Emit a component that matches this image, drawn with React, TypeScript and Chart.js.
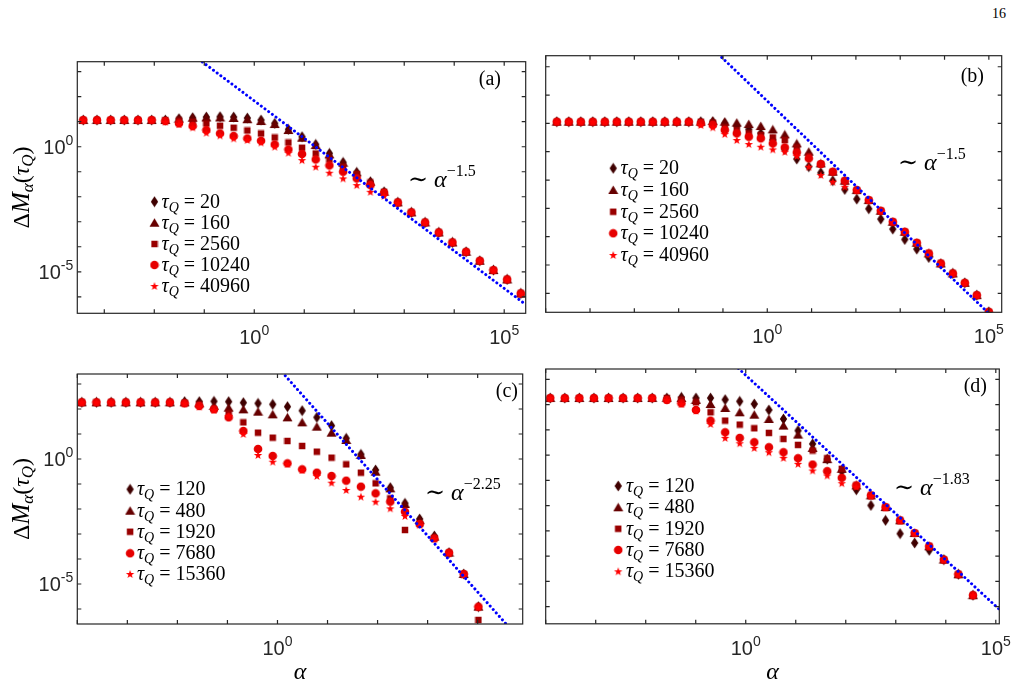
import React, { useEffect, useRef } from "react";
import { Chart, registerables } from "chart.js";

Chart.register(...registerables);

// ---------------------------------------------------------------------------
// Data. All values are log10 of the plotted quantity (both axes are log10).
// ---------------------------------------------------------------------------

const tauTopRow = ["20", "160", "2560", "10240", "40960"];
const tauBottomRow = ["120", "480", "1920", "7680", "15360"];

// power-law guide lines: exponent and log10 prefactor
const slopeA = -1.5;
const slopeB = -1.5;
const slopeC = -2.25;
const slopeD = -1.83;
const logPrefactorA = 1.835;
const logPrefactorB = 1.79;
const logPrefactorC = 3.68;
const logPrefactorD = 3.17;

// decade exponents that carry a tick label
const xTickLabelExponents = [0, 5];
const yTickLabelExponents = [0, -5];

// ---- panel (a) ----
const logAlphaA = [-3.42, -3.147, -2.873, -2.6, -2.326, -2.053, -1.779, -1.506, -1.232, -0.959, -0.685, -0.412, -0.138, 0.136, 0.409, 0.683, 0.956, 1.23, 1.503, 1.777, 2.05, 2.324, 2.597, 2.871, 3.144, 3.418, 3.691, 3.965, 4.238, 4.512, 4.785, 5.059, 5.332];
const logMA_20 = [1.067, 1.067, 1.067, 1.067, 1.067, 1.067, 1.067, 1.12, 1.16, 1.187, 1.2, 1.187, 1.147, 1.067, 0.933, 0.693, 0.4, 0.093, -0.267, -0.627, -1.027, -1.4, -1.8, -2.227, -2.627, -3.027, -3.427, -3.827, -4.2, -4.56, -4.933, -5.307, -5.867];
const logMA_160 = [1.067, 1.067, 1.067, 1.067, 1.067, 1.067, 1.067, 1.12, 1.16, 1.17, 1.17, 1.15, 1.1, 1.027, 0.907, 0.667, 0.36, 0.067, -0.307, -0.64, -1.027, -1.4, -1.8, -2.227, -2.627, -3.027, -3.427, -3.827, -4.2, -4.56, -4.933, -5.307, -5.867];
const logMA_2560 = [1.067, 1.067, 1.067, 1.067, 1.067, 1.067, 1.067, 1.05, 1.0, 0.93, 0.84, 0.76, 0.65, 0.53, 0.37, 0.17, -0.04, -0.27, -0.51, -0.8, -1.09, -1.43, -1.8, -2.227, -2.627, -3.027, -3.427, -3.827, -4.2, -4.56, -4.933, -5.307, -5.867];
const logMA_10240 = [1.067, 1.067, 1.067, 1.067, 1.067, 1.067, 1.027, 0.933, 0.827, 0.667, 0.533, 0.427, 0.333, 0.24, 0.093, -0.107, -0.293, -0.507, -0.747, -1.0, -1.267, -1.533, -1.84, -2.227, -2.627, -3.027, -3.427, -3.827, -4.2, -4.56, -4.933, -5.307, -5.867];
const logMA_40960 = [1.067, 1.067, 1.067, 1.067, 1.067, 1.067, 1.0, 0.907, 0.773, 0.56, 0.453, 0.333, 0.267, 0.173, 0.0, -0.24, -0.533, -0.8, -1.04, -1.267, -1.533, -1.8, -1.96, -2.25, -2.627, -3.027, -3.427, -3.827, -4.2, -4.56, -4.933, -5.307, -5.867];

// ---- panel (b) ----
const logAlphaB = [-4.75, -4.479, -4.208, -3.938, -3.667, -3.396, -3.125, -2.854, -2.584, -2.313, -2.042, -1.771, -1.5, -1.23, -0.959, -0.688, -0.417, -0.146, 0.124, 0.395, 0.666, 0.937, 1.208, 1.478, 1.749, 2.02, 2.291, 2.562, 2.832, 3.103, 3.374, 3.645, 3.916, 4.186, 4.457, 4.728, 4.999];
const logMB_20 = [1.06, 1.06, 1.06, 1.06, 1.06, 1.06, 1.06, 1.06, 1.06, 1.06, 1.06, 1.06, 1.06, 1.06, 1.001, 0.907, 0.789, 0.648, 0.412, 0.082, -0.259, -0.53, -0.742, -1.025, -1.331, -1.673, -2.014, -2.379, -2.733, -3.098, -3.439, -3.734, -3.969, -4.299, -4.629, -5.065, -5.654];
const logMB_160 = [1.06, 1.06, 1.06, 1.06, 1.06, 1.06, 1.06, 1.06, 1.06, 1.06, 1.06, 1.06, 1.06, 1.084, 1.06, 1.025, 0.978, 0.907, 0.789, 0.612, 0.294, 0.0, -0.412, -0.707, -1.025, -1.355, -1.708, -2.085, -2.473, -2.827, -3.216, -3.592, -3.946, -4.299, -4.629, -5.065, -5.654];
const logMB_2560 = [1.06, 1.06, 1.06, 1.06, 1.06, 1.06, 1.06, 1.06, 1.06, 1.06, 1.06, 1.06, 1.06, 1.025, 0.86, 0.766, 0.648, 0.589, 0.506, 0.412, 0.153, -0.153, -0.436, -0.707, -1.025, -1.355, -1.708, -2.085, -2.473, -2.827, -3.216, -3.592, -3.946, -4.299, -4.629, -5.065, -5.654];
const logMB_10240 = [1.06, 1.06, 1.06, 1.06, 1.06, 1.06, 1.06, 1.06, 1.06, 1.06, 1.06, 1.06, 1.001, 0.942, 0.766, 0.648, 0.53, 0.471, 0.294, 0.153, -0.024, -0.236, -0.436, -0.707, -1.025, -1.355, -1.708, -2.085, -2.473, -2.827, -3.216, -3.592, -3.946, -4.299, -4.629, -5.065, -5.654];
const logMB_40960 = [1.06, 1.06, 1.06, 1.06, 1.06, 1.06, 1.06, 1.06, 1.06, 1.06, 1.06, 1.06, 0.942, 0.86, 0.624, 0.412, 0.271, 0.177, 0.082, 0.0, -0.153, -0.53, -0.824, -1.06, -1.237, -1.355, -1.708, -2.085, -2.473, -2.827, -3.216, -3.592, -3.946, -4.299, -4.629, -5.065, -5.654];

// ---- panel (c) ----
const logAlphaC = [-3.91, -3.617, -3.323, -3.03, -2.736, -2.443, -2.149, -1.856, -1.562, -1.269, -0.975, -0.682, -0.388, -0.095, 0.199, 0.493, 0.786, 1.08, 1.373, 1.667, 1.96, 2.254, 2.547, 2.841, 3.134, 3.428, 3.721, 4.015];
const logMC_120 = [2.267, 2.267, 2.267, 2.267, 2.267, 2.267, 2.267, 2.293, 2.293, 2.307, 2.293, 2.253, 2.227, 2.187, 2.093, 1.933, 1.667, 1.333, 0.827, 0.187, -0.44, -1.147, -1.773, -2.4, -3.08, -3.747, -4.6, -5.907];
const logMC_480 = [2.267, 2.267, 2.267, 2.267, 2.267, 2.267, 2.267, 2.267, 2.227, 2.12, 2.053, 1.987, 1.893, 1.787, 1.667, 1.467, 1.293, 1.053, 0.76, 0.16, -0.507, -1.173, -1.8, -2.44, -3.107, -3.747, -4.6, -5.907];
const logMC_1920 = [2.267, 2.267, 2.267, 2.267, 2.267, 2.267, 2.267, 2.253, 2.187, 1.987, 1.827, 1.467, 1.053, 0.853, 0.72, 0.52, 0.293, 0.053, -0.213, -0.547, -0.973, -1.573, -2.84, -2.6, -3.173, -3.747, -4.6, -6.44];
const logMC_7680 = [2.267, 2.267, 2.267, 2.267, 2.267, 2.267, 2.267, 2.227, 2.12, 1.987, 1.667, 1.12, 0.4, 0.12, -0.173, -0.413, -0.547, -0.68, -0.867, -1.107, -1.373, -1.707, -2.107, -2.6, -3.173, -3.747, -4.6, -5.907];
const logMC_15360 = [2.267, 2.267, 2.267, 2.267, 2.267, 2.267, 2.267, 2.227, 2.093, 1.96, 1.72, 1.0, 0.16, -0.107, -0.2, -0.44, -0.68, -0.947, -1.24, -1.507, -1.707, -1.973, -2.28, -2.64, -3.2, -3.773, -4.64, -5.933];

// ---- panel (d) ----
const logAlphaD = [-3.91, -3.619, -3.327, -3.036, -2.744, -2.453, -2.161, -1.87, -1.578, -1.287, -0.995, -0.704, -0.412, -0.121, 0.171, 0.463, 0.754, 1.046, 1.337, 1.629, 1.92, 2.212, 2.503, 2.795, 3.086, 3.378, 3.669, 3.961, 4.252, 4.544];
const logMD_120 = [2.266, 2.266, 2.266, 2.266, 2.266, 2.266, 2.266, 2.266, 2.266, 2.293, 2.266, 2.266, 2.2, 2.134, 2.029, 1.792, 1.436, 0.975, 0.448, -0.158, -0.632, -1.37, -1.989, -2.582, -3.109, -3.478, -3.768, -4.137, -4.717, -5.547];
const logMD_480 = [2.266, 2.266, 2.266, 2.266, 2.266, 2.266, 2.266, 2.266, 2.266, 2.266, 2.187, 2.029, 1.871, 1.7, 1.607, 1.436, 1.173, 0.817, 0.29, -0.158, -0.54, -1.199, -1.594, -2.055, -2.582, -3.083, -3.61, -4.137, -4.717, -5.547];
const logMD_1920 = [2.266, 2.266, 2.266, 2.266, 2.266, 2.266, 2.266, 2.266, 2.266, 2.2, 2.095, 1.7, 1.37, 1.212, 1.067, 0.883, 0.646, 0.408, 0.184, -0.119, -0.54, -1.199, -1.594, -2.055, -2.582, -3.083, -3.61, -4.137, -4.717, -5.547];
const logMD_7680 = [2.266, 2.266, 2.266, 2.266, 2.266, 2.266, 2.266, 2.266, 2.187, 2.055, 1.792, 1.37, 0.909, 0.685, 0.514, 0.316, 0.119, -0.119, -0.369, -0.632, -0.896, -1.199, -1.594, -2.055, -2.582, -3.083, -3.61, -4.137, -4.717, -5.547];
const logMD_15360 = [2.266, 2.266, 2.266, 2.266, 2.266, 2.266, 2.266, 2.266, 2.187, 2.029, 1.77, 1.238, 0.685, 0.474, 0.29, 0.119, -0.105, -0.343, -0.606, -0.804, -1.107, -1.25, -1.62, -2.08, -2.6, -3.083, -3.61, -4.137, -4.717, -5.547];

// ---------------------------------------------------------------------------
// Layout and styling
// ---------------------------------------------------------------------------

const PAGE_W = 1025;
const PAGE_H = 687;
const SERIF = '"Liberation Serif", "DejaVu Serif", serif';
const SANS = '"Liberation Sans", Arial, Helvetica, sans-serif';
const AXIS_COLOR = "#262626";
const seriesColors = ["#3f0000", "#660000", "#990000", "#e60000", "#ff0000"];
const markerKinds = ["diamond", "triangle", "square", "circle", "star"] as const;

type Box = { l: number; t: number; r: number; b: number };

interface PanelSpec {
  key: string;
  letter: string;
  logAlpha: number[];
  series: number[][];
  taus: string[];
  slope: number;
  logPrefactor: number;
  slopeText: string;
  xLim: [number, number];
  yLim: [number, number];
  box: Box;
  yTickLabels: boolean;
  yTitle: boolean;
  xTitle: boolean;
  legend: { markerX: number; textX: number; rows: number[] };
  slopePos: { x: number; y: number };
  letterPos: { x: number; y: number };
}

const panels: PanelSpec[] = [
  {
    key: "a",
    letter: "(a)",
    logAlpha: logAlphaA,
    series: [logMA_20, logMA_160, logMA_2560, logMA_10240, logMA_40960],
    taus: tauTopRow,
    slope: slopeA,
    logPrefactor: logPrefactorA,
    slopeText: "\u22121.5",
    xLim: [-3.54, 5.43],
    yLim: [-6.66, 3.4],
    box: { l: 77.3, t: 61.7, r: 525.7, b: 313.3 },
    yTickLabels: true,
    yTitle: true,
    xTitle: false,
    legend: { markerX: 154.5, textX: 161.5, rows: [201.7, 222.7, 244, 265, 286] },
    slopePos: { x: 408, y: 187 },
    letterPos: { x: 501, y: 85 },
  },
  {
    key: "b",
    letter: "(b)",
    logAlpha: logAlphaB,
    series: [logMB_20, logMB_160, logMB_2560, logMB_10240, logMB_40960],
    taus: tauTopRow,
    slope: slopeB,
    logPrefactor: logPrefactorB,
    slopeText: "\u22121.5",
    xLim: [-5.0, 5.29],
    yLim: [-5.67, 3.39],
    box: { l: 545.7, t: 55.7, r: 1001.7, b: 312.3 },
    yTickLabels: false,
    yTitle: false,
    xTitle: false,
    legend: { markerX: 613.2, textX: 620.5, rows: [168.3, 190, 211.7, 233.3, 255] },
    slopePos: { x: 898, y: 170 },
    letterPos: { x: 984, y: 82 },
  },
  {
    key: "c",
    letter: "(c)",
    logAlpha: logAlphaC,
    series: [logMC_120, logMC_480, logMC_1920, logMC_7680, logMC_15360],
    taus: tauBottomRow,
    slope: slopeC,
    logPrefactor: logPrefactorC,
    slopeText: "\u22122.25",
    xLim: [-4.0, 4.9],
    yLim: [-6.6, 3.4],
    box: { l: 77.3, t: 374, r: 522.7, b: 624 },
    yTickLabels: true,
    yTitle: true,
    xTitle: true,
    legend: { markerX: 130.1, textX: 136.9, rows: [489.3, 510.7, 531.7, 553.3, 574] },
    slopePos: { x: 425, y: 500 },
    letterPos: { x: 518, y: 397 },
  },
  {
    key: "d",
    letter: "(d)",
    logAlpha: logAlphaD,
    series: [logMD_120, logMD_480, logMD_1920, logMD_7680, logMD_15360],
    taus: tauBottomRow,
    slope: slopeD,
    logPrefactor: logPrefactorD,
    slopeText: "\u22121.83",
    xLim: [-4.0, 5.07],
    yLim: [-6.68, 3.415],
    box: { l: 545.7, t: 369, r: 999.3, b: 623.8 },
    yTickLabels: false,
    yTitle: false,
    xTitle: true,
    legend: { markerX: 618.2, textX: 625.9, rows: [486, 507.3, 528.7, 550, 571.3] },
    slopePos: { x: 894, y: 495 },
    letterPos: { x: 987, y: 392 },
  },
];

// ---------------------------------------------------------------------------
// Marker sprites (filled shapes used both in the plot and the legend)
// ---------------------------------------------------------------------------

function makeMarker(kind: string, color: string): HTMLCanvasElement {
  const c = document.createElement("canvas");
  let w = 10;
  let h = 10;
  if (kind === "diamond") { w = 9; h = 12; }
  if (kind === "triangle") { w = 11; h = 10; }
  if (kind === "square") { w = 8; h = 8; }
  if (kind === "star") { w = 10; h = 10; }
  c.width = w;
  c.height = h;
  const g = c.getContext("2d")!;
  g.fillStyle = color;
  g.beginPath();
  if (kind === "diamond") {
    g.moveTo(w / 2, 0.5);
    g.lineTo(w - 0.8, h / 2);
    g.lineTo(w / 2, h - 0.5);
    g.lineTo(0.8, h / 2);
  } else if (kind === "triangle") {
    g.moveTo(w / 2, 0.5);
    g.lineTo(w - 0.5, h - 1);
    g.lineTo(0.5, h - 1);
  } else if (kind === "square") {
    g.rect(0.75, 0.75, w - 1.5, h - 1.5);
  } else if (kind === "circle") {
    g.arc(w / 2, h / 2, 4.3, 0, Math.PI * 2);
  } else {
    const cx = w / 2;
    const cy = h / 2 + 0.4;
    for (let i = 0; i < 10; i++) {
      const rr = i % 2 === 0 ? 4.4 : 1.8;
      const ang = -Math.PI / 2 + (i * Math.PI) / 5;
      const px = cx + rr * Math.cos(ang);
      const py = cy + rr * Math.sin(ang);
      if (i === 0) g.moveTo(px, py);
      else g.lineTo(px, py);
    }
  }
  g.closePath();
  g.fill();
  return c;
}

// ---------------------------------------------------------------------------
// Text helpers: runs of differently styled text on one baseline
// ---------------------------------------------------------------------------

type Run = { t: string; font: string; dy?: number };

function runsWidth(ctx: CanvasRenderingContext2D, runs: Run[]) {
  let w = 0;
  for (const r of runs) {
    ctx.font = r.font;
    w += ctx.measureText(r.t).width;
  }
  return w;
}

function drawRuns(
  ctx: CanvasRenderingContext2D,
  runs: Run[],
  x: number,
  y: number,
  align: "left" | "right" | "center"
) {
  const w = runsWidth(ctx, runs);
  let cx = align === "left" ? x : align === "right" ? x - w : x - w / 2;
  ctx.textAlign = "left";
  ctx.textBaseline = "alphabetic";
  for (const r of runs) {
    ctx.font = r.font;
    ctx.fillText(r.t, cx, y + (r.dy ?? 0));
    cx += ctx.measureText(r.t).width;
  }
}

function powerLabel(exp: number): Run[] {
  const s = exp < 0 ? "-" + Math.abs(exp) : String(exp);
  return [
    { t: "10", font: `20px ${SANS}` },
    { t: s, font: `14px ${SANS}`, dy: -9 },
  ];
}

function decades(min: number, max: number) {
  const out: number[] = [];
  for (let e = Math.ceil(Math.log10(min) - 1e-9); e <= Math.floor(Math.log10(max) + 1e-9); e++) out.push(e);
  return out;
}

// ---------------------------------------------------------------------------
// Per-panel decoration plugin: box, inward ticks, labels, legend, annotations
// ---------------------------------------------------------------------------

function decorPlugin(p: PanelSpec, markers: HTMLCanvasElement[]) {
  return {
    id: "decor_" + p.key,
    afterDraw(chart: Chart) {
      const ctx = chart.ctx;
      const xs = chart.scales.x;
      const ys = chart.scales.y;
      const { left, right, top, bottom } = chart.chartArea;
      const tick = 4;

      ctx.save();
      ctx.strokeStyle = AXIS_COLOR;
      ctx.lineWidth = 1.2;
      ctx.beginPath();
      for (const e of decades(xs.min, xs.max)) {
        const px = xs.getPixelForValue(10 ** e);
        ctx.moveTo(px, bottom);
        ctx.lineTo(px, bottom - tick);
        ctx.moveTo(px, top);
        ctx.lineTo(px, top + tick);
      }
      for (const e of decades(ys.min, ys.max)) {
        const py = ys.getPixelForValue(10 ** e);
        ctx.moveTo(left, py);
        ctx.lineTo(left + tick, py);
        ctx.moveTo(right, py);
        ctx.lineTo(right - tick, py);
      }
      ctx.stroke();
      ctx.strokeRect(left, top, right - left, bottom - top);

      // tick labels
      ctx.fillStyle = AXIS_COLOR;
      for (const e of xTickLabelExponents) {
        const v = 10 ** e;
        if (v < xs.min || v > xs.max) continue;
        drawRuns(ctx, powerLabel(e), xs.getPixelForValue(v), bottom + 31, "center");
      }
      if (p.yTickLabels) {
        for (const e of yTickLabelExponents) {
          const v = 10 ** e;
          if (v < ys.min || v > ys.max) continue;
          drawRuns(ctx, powerLabel(e), left - 4, ys.getPixelForValue(v) + 7, "right");
        }
      }

      // axis titles
      ctx.fillStyle = "#000";
      if (p.yTitle) {
        ctx.save();
        ctx.translate(29, (top + bottom) / 2);
        ctx.rotate(-Math.PI / 2);
        drawRuns(
          ctx,
          [
            { t: "\u0394", font: `24px ${SERIF}` },
            { t: "M", font: `italic 25px ${SERIF}` },
            { t: "\u03b1", font: `italic 17px ${SERIF}`, dy: 4 },
            { t: "(", font: `24px ${SERIF}` },
            { t: "\u03c4", font: `italic 24px ${SERIF}` },
            { t: "Q", font: `italic 17px ${SERIF}`, dy: 4 },
            { t: ")", font: `24px ${SERIF}` },
          ],
          0,
          0,
          "center"
        );
        ctx.restore();
      }
      if (p.xTitle) {
        drawRuns(ctx, [{ t: "\u03b1", font: `italic 24px ${SERIF}` }], (left + right) / 2, 679, "center");
      }

      // panel letter
      drawRuns(ctx, [{ t: p.letter, font: `20px ${SERIF}` }], p.letterPos.x, p.letterPos.y, "right");

      // power-law annotation
      drawRuns(
        ctx,
        [
          { t: "\u223c ", font: `24px ${SERIF}` },
          { t: "\u03b1", font: `italic 24px ${SERIF}` },
          { t: p.slopeText, font: `16px ${SERIF}`, dy: -11 },
        ],
        p.slopePos.x,
        p.slopePos.y,
        "left"
      );

      // legend
      p.taus.forEach((tau, i) => {
        const y = p.legend.rows[i];
        const m = markers[i];
        ctx.drawImage(m, p.legend.markerX - m.width / 2, y - m.height / 2);
        drawRuns(
          ctx,
          [
            { t: "\u03c4", font: `italic 20px ${SERIF}` },
            { t: "Q", font: `italic 14px ${SERIF}`, dy: 4 },
            { t: " = ", font: `20px ${SERIF}` },
            { t: tau, font: `20px ${SERIF}` },
          ],
          p.legend.textX,
          y + 6,
          "left"
        );
      });
      ctx.restore();
    },
  };
}

function buildChart(canvas: HTMLCanvasElement, p: PanelSpec) {
  const markers = markerKinds.map((k, i) => makeMarker(k, seriesColors[i]));
  const markerSets = p.series.map((vals, i) => ({
    label: `\u03c4Q = ${p.taus[i]}`,
    data: p.logAlpha.map((lx, j) => ({ x: 10 ** lx, y: 10 ** vals[j] })),
    pointStyle: markers[i],
    pointRadius: 5,
    pointHoverRadius: 5,
    borderWidth: 0,
    showLine: false,
    order: 10 - i,
  }));
  const [x0, x1] = p.xLim;
  const guide = {
    label: "power law",
    data: [
      { x: 10 ** x0, y: 10 ** (p.logPrefactor + p.slope * x0) },
      { x: 10 ** x1, y: 10 ** (p.logPrefactor + p.slope * x1) },
    ],
    showLine: true,
    borderColor: "#0000ff",
    borderWidth: 3,
    borderDash: [0.001, 4.6],
    borderCapStyle: "round",
    pointRadius: 0,
    pointHoverRadius: 0,
    tension: 0,
    clip: 0,
    order: 0,
  };
  const b = p.box;
  return new Chart(canvas, {
    type: "scatter",
    data: { datasets: [guide as any, ...markerSets] },
    options: {
      animation: false,
      responsive: false,
      events: [],
      layout: { padding: { left: b.l, top: b.t, right: PAGE_W - b.r, bottom: PAGE_H - b.b } },
      scales: {
        x: { type: "logarithmic", display: false, min: 10 ** p.xLim[0], max: 10 ** p.xLim[1] },
        y: { type: "logarithmic", display: false, min: 10 ** p.yLim[0], max: 10 ** p.yLim[1] },
      },
      plugins: { legend: { display: false }, tooltip: { enabled: false } },
    },
    plugins: [decorPlugin(p, markers)],
  });
}

export default function App() {
  const refs = useRef<(HTMLCanvasElement | null)[]>([]);

  useEffect(() => {
    const charts = panels.map((p, i) => buildChart(refs.current[i]!, p));
    return () => charts.forEach((c) => c.destroy());
  }, []);

  return (
    <div
      style={{
        position: "fixed",
        left: 0,
        top: 0,
        width: PAGE_W,
        height: PAGE_H,
        background: "#fff",
        overflow: "hidden",
      }}
    >
      <div
        style={{
          position: "absolute",
          left: 992,
          top: 6,
          fontFamily: SERIF,
          fontSize: 14,
          color: "#000",
        }}
      >
        16
      </div>
      {panels.map((p, i) => (
        <canvas
          key={p.key}
          ref={(el) => {
            refs.current[i] = el;
          }}
          width={PAGE_W}
          height={PAGE_H}
          style={{ position: "absolute", left: 0, top: 0, width: PAGE_W, height: PAGE_H }}
        />
      ))}
    </div>
  );
}
